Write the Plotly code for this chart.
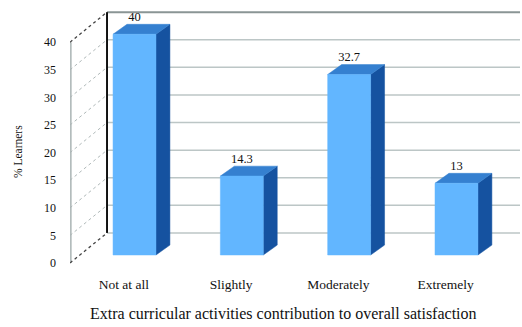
import plotly.graph_objects as go

# ---- data ----
categories = ["Not at all", "Slightly", "Moderately", "Extremely"]
values = [40, 14.3, 32.7, 13]
value_labels = ["40", "14.3", "32.7", "13"]
y_ticks = [0, 5, 10, 15, 20, 25, 30, 35, 40]
x_title = "Extra curricular activities contribution to overall satisfaction"
y_title = "% Learners"

# ---- styling / geometry (in axis units) ----
FONT = "Liberation Serif"
C_FRONT, C_TOP, C_SIDE = "#62B6FF", "#3580D0", "#1552A0"
half_w = 0.2          # half bar width
bar_dx, bar_dy = 0.13, 1.8     # bar depth offset
back_x, back_dy = -0.256, 4.0  # back wall position / vertical offset
front_x, front_dy = -0.601, -1.45  # front edge of side wall / offset
label_shift = -0.1
x_range = [-0.601, 3.592]
y_range = [-1.81, 44.39]
y_max_tick = max(y_ticks)

fig = go.Figure()
shapes = []

def seg(x0, y0, x1, y1, color, width=1, dash="solid"):
    shapes.append(dict(type="line", xref="x", yref="y", x0=x0, y0=y0, x1=x1, y1=y1,
                       line=dict(color=color, width=width, dash=dash), layer="below"))

def poly(xs, ys, color):
    fig.add_trace(go.Scatter(x=xs + [xs[0]], y=ys + [ys[0]], mode="lines", fill="toself",
                             fillcolor=color, line=dict(color=color, width=0.5),
                             hoverinfo="skip", showlegend=False))

# back wall gridlines
for v in y_ticks:
    if v == y_max_tick:
        seg(back_x, v + back_dy, x_range[1], v + back_dy, "#8a9595", 2)
    else:
        seg(back_x, v + back_dy, x_range[1], v + back_dy, "#bcc6c6", 1.5)
# side wall diagonal gridlines
for v in y_ticks[1:-1]:
    seg(front_x, v + front_dy, back_x, v + back_dy, "#b0b9b9", 1, "dot")
# side wall edges
seg(front_x + 0.008, front_dy, front_x + 0.008, y_max_tick + front_dy, "#aab4b4", 1.5)
seg(front_x, y_max_tick + front_dy, back_x, y_max_tick + back_dy, "#444444", 1.3, "dot")
seg(front_x, front_dy, back_x, back_dy, "#444444", 1.3, "dot")
seg(back_x, back_dy, back_x, y_max_tick + back_dy, "#111111", 2)

# bars
for i, v in enumerate(values):
    x0, x1 = i - half_w, i + half_w
    poly([x1, x1 + bar_dx, x1 + bar_dx, x1], [0, bar_dy, v + bar_dy, v], C_SIDE)
    poly([x0, x1, x1 + bar_dx, x0 + bar_dx], [v, v, v + bar_dy, v + bar_dy], C_TOP)
    poly([x0, x1, x1, x0], [0, 0, v, v], C_FRONT)

# value labels
fig.add_trace(go.Scatter(x=list(range(len(values))), y=[v + bar_dy for v in values],
                         mode="text", text=value_labels, textposition="top center",
                         textfont=dict(family=FONT, size=12.5, color="#111111"),
                         hoverinfo="skip", showlegend=False))

fig.update_layout(
    width=522, height=327,
    margin=dict(l=70, r=2, t=10, b=62),
    plot_bgcolor="white", paper_bgcolor="white",
    font=dict(family=FONT, size=10, color="#111111"),
    showlegend=False,
    shapes=shapes,
    xaxis=dict(range=x_range, showgrid=False, zeroline=False, showline=False,
               tickmode="array", tickvals=[i + label_shift for i in range(len(categories))],
               ticktext=categories, ticks="", ticklabelstandoff=9,
               tickfont=dict(family=FONT, size=13.5, color="#111111")),
    yaxis=dict(range=y_range, showgrid=False, zeroline=False, showline=False,
               tickmode="array", tickvals=[v + front_dy for v in y_ticks],
               ticktext=[str(v) for v in y_ticks], ticks="", ticklabelstandoff=13,
               tickfont=dict(family=FONT, size=12, color="#111111")),
    annotations=[
        dict(text=x_title, xref="paper", yref="paper", x=(283 - 70) / 450, y=-(313 - 265) / 255,
             showarrow=False, xanchor="center", yanchor="middle",
             font=dict(family=FONT, size=16, color="#111111")),
        dict(text=y_title, xref="paper", yref="paper", x=(18 - 70) / 450, y=(265 - 152) / 255,
             showarrow=False, xanchor="center", yanchor="middle", textangle=-90,
             font=dict(family=FONT, size=11.5, color="#111111")),
    ],
)

fig.write_html("out.html")
